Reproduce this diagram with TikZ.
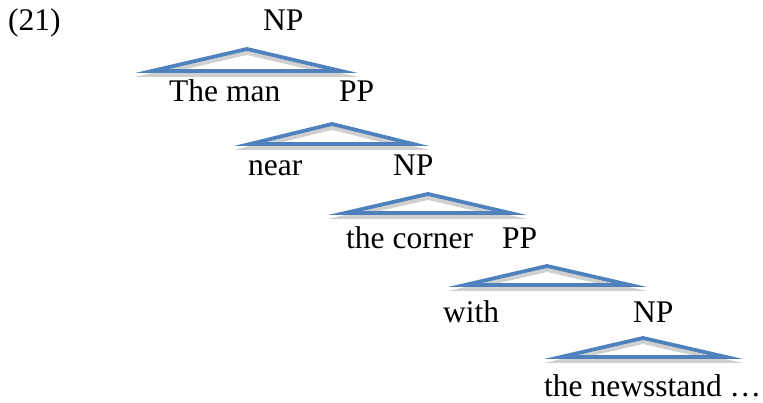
\documentclass[tikz,border=0pt]{standalone}
\usepackage{fontspec}
\setmainfont{Liberation Serif}
\begin{document}
\begin{tikzpicture}[x=1pt,y=-1pt,
  lbl/.style={anchor=base west,inner sep=0pt,font=\fontsize{31.5}{36}\selectfont},
  tri/.style={draw={rgb,255:red,79;green,129;blue,189},line width=3.8pt},
  trishadow/.style={draw={rgb,255:red,208;green,208;blue,208},line width=3.8pt}]
\useasboundingbox (0,0) rectangle (763,402);
% labels
\node[lbl] (ex) at (8,30) {(21)};
\node[lbl] (np1) at (263,30) {NP};
\node[lbl] (theman) at (169,101) {The man};
\node[lbl] (pp1) at (339,101) {PP};
\node[lbl] (near) at (248,175) {near};
\node[lbl] (np2) at (393,175) {NP};
\node[lbl] (corner) at (346,248) {the corner};
\node[lbl] (pp2) at (502,248) {PP};
\node[lbl] (with) at (443,322) {with};
\node[lbl] (np3) at (633,322) {NP};
\node[lbl,text depth=0pt] (news) at (544,396) {the newsstand …};
% triangles: apex x, apex y, left x, right x, base y
\foreach \ax/\ay/\lx/\rx/\by [count=\i] in {247/49/152/341/71, 332/124/250/413/144, 428/194/345/510/213, 547/266/465/630/285, 643/338/561/726/357}{
  \coordinate (apex\i) at (\ax,\ay);
  \coordinate (left\i) at (\lx,\by);
  \coordinate (right\i) at (\rx,\by);
  \draw[trishadow] ([yshift=-4pt]left\i) -- ([yshift=-4pt]apex\i) -- ([yshift=-4pt]right\i) -- cycle;
  \draw[tri] (left\i) -- (apex\i) -- (right\i) -- cycle;
}
\end{tikzpicture}
\end{document}
